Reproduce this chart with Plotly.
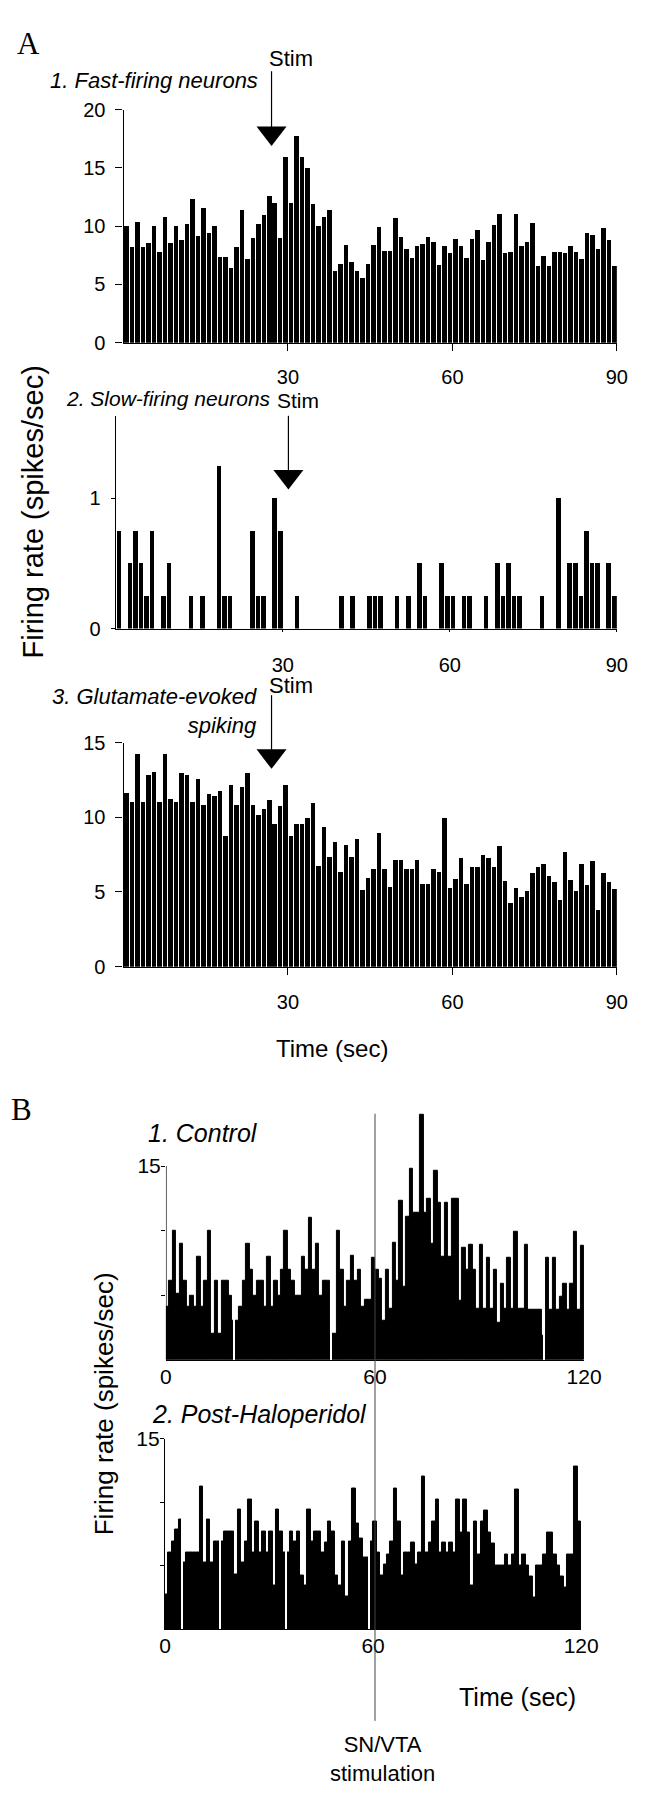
import plotly.graph_objects as go

W, H = 657, 1800

# ---------------- data ----------------
a_bins = list(range(1, 91))      # 1-s bins, panel A (0-90 s)
b_bins = list(range(1, 121))     # 1-s bins, panel B (0-120 s)

a1_rate = [10.0, 8.25, 10.4, 8.25, 8.6, 10.0, 7.85, 10.85, 8.6, 10.0,
           8.8, 10.2, 12.4, 9.2, 11.6, 9.4, 10.0, 7.4, 7.4, 6.4,
           8.2, 11.45, 7.2, 9.0, 10.2, 10.95, 12.6, 12.0, 9.0, 15.95,
           12.0, 17.8, 15.95, 15.0, 11.9, 10.0, 10.8, 11.4, 6.15, 6.75,
           8.4, 6.95, 6.15, 5.55, 6.75, 8.4, 9.97, 7.9, 7.9, 10.75,
           9.1, 8.1, 7.3, 8.35, 8.5, 9.1, 8.7, 6.7, 8.35, 7.7,
           8.9, 8.35, 7.3, 8.9, 9.7, 7.1, 8.7, 10.1, 11.1, 7.7,
           7.85, 11.1, 8.3, 8.7, 10.3, 6.65, 7.5, 6.65, 7.85, 7.85,
           7.7, 8.3, 7.85, 7.25, 9.45, 9.25, 8.05, 9.9, 8.85, 6.65]

a2_rate = [0.75, 0, 0.5, 0.75, 0.5, 0.25, 0.75, 0, 0.25, 0.5,
           0, 0, 0, 0.25, 0, 0.25, 0, 0, 1.25, 0.25,
           0.25, 0, 0, 0, 0.75, 0.25, 0.25, 0, 1.0, 0.75,
           0, 0, 0.25, 0, 0, 0, 0, 0, 0, 0,
           0.25, 0, 0.25, 0, 0, 0.25, 0.25, 0.25, 0, 0,
           0.25, 0, 0.25, 0, 0.5, 0.25, 0, 0, 0.5, 0.25,
           0.25, 0, 0.25, 0.25, 0, 0, 0.25, 0, 0.5, 0.25,
           0.5, 0.25, 0.25, 0, 0, 0, 0.25, 0, 0, 1.0,
           0, 0.5, 0.5, 0.25, 0.75, 0.5, 0.5, 0, 0.5, 0.25]

a3_rate = [11.65, 11.03, 14.27, 11.03, 12.86, 13.04, 11.03, 14.27, 11.23, 11.03,
           13.02, 12.86, 11.03, 12.62, 10.84, 11.6, 11.43, 11.8, 8.79, 12.22,
           10.84, 12.03, 13.0, 10.84, 10.2, 10.6, 11.2, 9.58, 10.81, 12.22,
           8.79, 9.58, 9.58, 10.0, 10.99, 6.76, 9.38, 7.36, 8.37, 6.37,
           8.15, 7.36, 8.57, 5.15, 5.95, 6.59, 8.96, 6.56, 5.35, 7.18,
           7.18, 6.56, 6.56, 7.16, 5.53, 5.53, 6.56, 6.34, 9.98, 5.31,
           5.9, 7.33, 5.53, 6.72, 6.72, 7.53, 7.31, 6.72, 8.1, 5.73,
           4.3, 5.29, 4.69, 5.11, 6.3, 6.7, 6.89, 6.1, 5.7, 4.47,
           7.71, 5.86, 5.09, 6.89, 5.48, 7.09, 3.85, 6.28, 5.7, 5.24]

b1_rate = [4.1, 6.1, 10.0, 5.1, 9.0, 6.1, 4.1, 5.0, 4.1, 8.0,
           4.1, 6.1, 10.0, 2.0, 6.1, 2.0, 6.1, 6.1, 5.0, 3.0,
           3.0, 4.1, 6.1, 9.0, 7.0, 5.0, 6.1, 6.1, 4.1, 8.0,
           4.1, 6.1, 5.0, 7.0, 10.0, 7.0, 6.1, 5.0, 5.0, 8.0,
           7.0, 11.0, 7.0, 9.0, 5.0, 6.1, 6.1, 2.0, 2.0, 10.0,
           7.0, 4.1, 6.1, 8.1, 6.1, 7.0, 4.1, 4.7, 4.7, 7.9,
           7.0, 6.3, 3.0, 7.0, 4.0, 9.1, 6.1, 12.3, 5.7, 11.1,
           14.8, 11.4, 11.4, 19.0, 11.4, 12.5, 9.0, 14.6, 12.2, 8.0,
           12.2, 8.0, 12.5, 12.5, 4.6, 8.7, 7.0, 8.9, 7.0, 4.0,
           8.9, 4.0, 7.9, 4.0, 7.0, 2.9, 5.9, 4.0, 7.9, 4.0,
           9.9, 4.0, 4.0, 8.9, 3.9, 3.9, 3.9, 3.9, 1.9, 7.9,
           3.9, 7.9, 3.9, 4.9, 5.9, 3.9, 5.9, 9.9, 3.9, 8.8]

b2_rate = [2.7, 6.0, 6.9, 7.8, 8.6, 5.2, 6.0, 6.0, 6.0, 6.0,
           11.2, 5.2, 8.6, 5.2, 6.9, 6.9, 6.9, 7.7, 7.7, 7.7,
           4.3, 9.4, 5.2, 6.9, 10.2, 6.0, 8.5, 6.0, 7.7, 6.0,
           7.7, 3.4, 9.4, 7.7, 6.0, 6.0, 7.7, 6.9, 7.7, 4.2,
           3.4, 9.4, 6.9, 7.7, 7.7, 6.0, 6.8, 8.5, 7.7, 4.2,
           3.4, 6.9, 2.6, 6.9, 11.1, 8.3, 7.1, 5.6, 5.6, 6.9,
           8.5, 6.0, 4.2, 5.1, 5.9, 6.9, 11.1, 8.5, 4.2, 6.0,
           6.0, 6.8, 5.1, 6.0, 12.0, 6.0, 6.8, 8.5, 10.2, 6.0,
           6.8, 6.0, 6.8, 6.0, 10.2, 7.6, 10.2, 7.6, 3.4, 8.5,
           5.9, 8.5, 9.3, 7.6, 6.7, 5.0, 5.0, 5.0, 5.9, 5.0,
           5.9, 11.0, 5.0, 5.9, 5.0, 4.1, 2.5, 5.0, 5.0, 5.9,
           7.6, 7.6, 5.9, 5.0, 4.1, 3.3, 5.9, 5.9, 12.8, 8.5]

b1_gap_times = [19.5, 47.5, 108.5]
b2_gap_times = [5.0, 15.8, 34.8, 59.0]

stim_times_a = [27, 31, 27]
stim_time_b = 60

a_x_ticks = [30, 60, 90]
a1_y_ticks = [0, 5, 10, 15, 20]
a2_y_ticks = [0, 1]
a3_y_ticks = [0, 5, 10, 15]
b_x_ticks = [0, 60, 120]
b_y_ticks = [5, 10, 15]
b_y_ticktext = ["", "", "15"]

# ---------------- layout geometry (pixels) ----------------
SANS = "Liberation Sans, Arial, sans-serif"
SERIF = "Liberation Serif, Times New Roman, serif"

def px(x):
    return x / W

def py(y):
    return 1 - y / H

panels = {
    # name: (x_left, x_right, y_top, y_bottom, yrange)
    "a1": (122, 634, 99, 335, [0, 20]),
    "a2": (114, 634, 409, 624.5, [0, 1.63]),
    "a3": (122, 634, 740, 967, [0, 15]),
    "b1": (166, 600, 1114, 1365.5, [0, 19.2]),
    "b2": (165, 597, 1445, 1638, [0, 15]),
}

def data_y(panel, ypix):
    xl, xr, yt, yb, yr = panels[panel]
    return yr[0] + (yb - ypix) / (yb - yt) * (yr[1] - yr[0])

fig = go.Figure()

centers_a = [b - 0.5 for b in a_bins]
centers_b = [b - 0.5 for b in b_bins]

fig.add_trace(go.Bar(x=centers_a, y=a1_rate, width=0.82, marker=dict(color="#000", line=dict(width=0)),
                     xaxis="x", yaxis="y", showlegend=False))
fig.add_trace(go.Bar(x=centers_a, y=a2_rate, width=0.82, marker=dict(color="#000", line=dict(width=0)),
                     xaxis="x2", yaxis="y2", showlegend=False))
fig.add_trace(go.Bar(x=centers_a, y=a3_rate, width=0.82, marker=dict(color="#000", line=dict(width=0)),
                     xaxis="x3", yaxis="y3", showlegend=False))
fig.add_trace(go.Bar(x=centers_b, y=b1_rate, width=1.0, marker=dict(color="#000", line=dict(width=1, color="#000")),
                     xaxis="x4", yaxis="y4", showlegend=False))
fig.add_trace(go.Bar(x=centers_b, y=b2_rate, width=1.0, marker=dict(color="#000", line=dict(width=1, color="#000")),
                     xaxis="x5", yaxis="y5", showlegend=False))
# thin white gaps in the B histograms
fig.add_trace(go.Bar(x=b1_gap_times, y=[25] * len(b1_gap_times), width=0.4,
                     marker=dict(color="#fff", line=dict(width=0)), xaxis="x4", yaxis="y4", showlegend=False))
fig.add_trace(go.Bar(x=b2_gap_times, y=[25] * len(b2_gap_times), width=0.4,
                     marker=dict(color="#fff", line=dict(width=0)), xaxis="x5", yaxis="y5", showlegend=False))

# stim arrowheads
head_center = {"a1": 122.5, "a2": 470.5, "a3": 753.5}
shaft = {"a1": (60, 118), "a2": (409, 466), "a3": (692, 749)}
for i, (name, ax) in enumerate([("a1", ""), ("a2", "2"), ("a3", "3")]):
    fig.add_trace(go.Scatter(x=[stim_times_a[i]], y=[data_y(name, head_center[name])], mode="markers",
                             marker=dict(symbol="triangle-down", size=26, color="#000", line=dict(width=0)),
                             xaxis="x" + ax, yaxis="y" + ax, cliponaxis=False, showlegend=False))

TICKFONT = dict(family=SANS, size=20, color="#000")
common = dict(showgrid=False, zeroline=False, showline=True, linecolor="#000", linewidth=1.3,
              tickcolor="#000", tickwidth=1.2, fixedrange=True, tickfont=TICKFONT)

lay = dict(width=W, height=H, margin=dict(l=0, r=0, t=0, b=0), paper_bgcolor="#fff", plot_bgcolor="#fff",
           barmode="overlay", bargap=0, showlegend=False)

# A axes
for k, name, yt, ticklen_x, ticklen_y, standoff in [("", "a1", a1_y_ticks, 7, 7, 9),
                                                    ("2", "a2", a2_y_ticks, 2, 4, 16),
                                                    ("3", "a3", a3_y_ticks, 7, 7, 10)]:
    xl, xr, ytp, ybt, yr = panels[name]
    lay["xaxis" + k] = dict(common, domain=[px(xl), px(xr)], range=[0, 90], tickvals=a_x_ticks,
                            ticks="outside", ticklen=ticklen_x, anchor="y" + k, ticklabelstandoff=standoff)
    lay["yaxis" + k] = dict(common, domain=[py(ybt), py(ytp)], range=yr, tickvals=yt,
                            ticks="outside", ticklen=ticklen_y, anchor="x" + k, ticklabelstandoff=6)

# B axes
BFONT = dict(family=SANS, size=21, color="#000")
xl, xr, ytp, ybt, yr = panels["b1"]
lay["xaxis4"] = dict(common, domain=[px(xl), px(xr)], range=[0, 120], tickvals=b_x_ticks, ticks="",
                     anchor="y4", tickfont=BFONT, ticklabelstandoff=-2)
lay["yaxis4"] = dict(common, domain=[py(ybt), py(ytp)], range=yr, tickvals=b_y_ticks, ticktext=b_y_ticktext,
                     ticks="outside", ticklen=4, anchor="x4", showline=False,
                     tickfont=BFONT, ticklabelstandoff=-4)
xl, xr, ytp, ybt, yr = panels["b2"]
lay["xaxis5"] = dict(common, domain=[px(xl), px(xr)], range=[0, 120], tickvals=b_x_ticks, ticks="",
                     anchor="y5", tickfont=BFONT, ticklabelstandoff=-2)
lay["yaxis5"] = dict(common, domain=[py(ybt), py(ytp)], range=yr, tickvals=b_y_ticks, ticktext=b_y_ticktext,
                     ticks="outside", ticklen=4, anchor="x5",
                     tickfont=BFONT, ticklabelstandoff=-4)

shapes = []
# stim shafts
for i, (name, ax) in enumerate([("a1", "x"), ("a2", "x2"), ("a3", "x3")]):
    t, b = shaft[name]
    shapes.append(dict(type="line", xref=ax, yref="paper", x0=stim_times_a[i], x1=stim_times_a[i],
                       y0=py(t), y1=py(b), line=dict(color="#000", width=1.2)))
# B1 y-axis line (0-15 only)
shapes.append(dict(type="line", xref="x4", yref="y4", x0=0, x1=0, y0=0, y1=15, line=dict(color="#000", width=1.3)))
# SN/VTA stimulation line
shapes.append(dict(type="line", xref="x4", yref="paper", x0=stim_time_b, x1=stim_time_b,
                   y0=py(1116), y1=py(1731), line=dict(color="#444", width=1)))
lay["shapes"] = shapes

def ann(text, x, y, size, xanchor="center", family=SANS, textangle=0, align="center"):
    return dict(text=text, x=px(x), y=py(y), xref="paper", yref="paper", showarrow=False,
                xanchor=xanchor, yanchor="middle", textangle=textangle, align=align,
                font=dict(family=family, size=size, color="#000"))

annotations = [
    ann("A", 23, 32, 31, family=SERIF),
    ann("<i>1. Fast-firing neurons</i>", 44, 69, 22, xanchor="left"),
    ann("Stim", 271, 47, 22, xanchor="left"),
    ann("<i>2. Slow-firing neurons</i>", 60, 392, 21, xanchor="left"),
    ann("Stim", 279, 394, 21, xanchor="left"),
    ann("<i>3. Glutamate-evoked</i><br><i>spiking</i>", 263, 708, 22, xanchor="right", align="right"),
    ann("Stim", 271, 682, 22, xanchor="left"),
    ann("Firing rate (spikes/sec)", 28, 506, 29, textangle=-90),
    ann("Time (sec)", 338, 1050, 24),
    ann("B", 16, 1112, 31, family=SERIF),
    ann("<i>1. Control</i>", 145, 1136, 25, xanchor="left"),
    ann("<i>2. Post-Haloperidol</i>", 149, 1420, 25, xanchor="left"),
    ann("Firing rate (spikes/sec)", 102, 1410, 26, textangle=-90),
    ann("Time (sec)", 531, 1707, 25),
    ann("SN/VTA<br>stimulation", 391, 1770, 22),
]
lay["annotations"] = annotations

fig.update_layout(**lay)
fig.write_html("out.html", config={"displayModeBar": False},
               post_script="document.body.style.margin='0px';document.body.style.overflow='hidden';")
